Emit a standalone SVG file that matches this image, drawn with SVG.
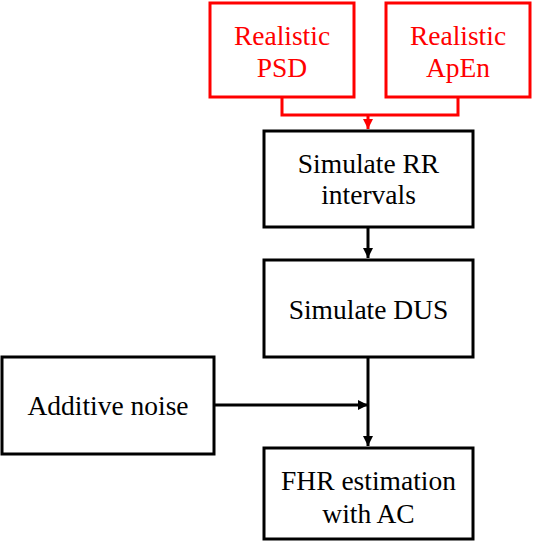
<svg xmlns="http://www.w3.org/2000/svg" width="533" height="542" viewBox="0 0 533 542">
<style>
.box{fill:#fff;stroke:#000;stroke-width:3}
.rbox{fill:#fff;stroke:#f00;stroke-width:3}
.t{font-family:"Liberation Serif","Times New Roman",serif;font-size:27.5px;text-anchor:middle;fill:#000}
.rt{font-family:"Liberation Serif","Times New Roman",serif;font-size:27.5px;text-anchor:middle;fill:#f00}
.line{fill:none;stroke:#000;stroke-width:3}
.rline{fill:none;stroke:#f00;stroke-width:3}
</style>
<defs>
<marker id="ah" viewBox="0 0 10 10" refX="10" refY="5" markerWidth="10" markerHeight="10" markerUnits="userSpaceOnUse" orient="auto">
<path d="M0,0 L10,5 L0,10 z" fill="#000"/>
</marker>
<marker id="rah" viewBox="0 0 10 10" refX="10" refY="5" markerWidth="10" markerHeight="10" markerUnits="userSpaceOnUse" orient="auto">
<path d="M0,0 L10,5 L0,10 z" fill="#f00"/>
</marker>
</defs>
<rect width="533" height="542" fill="#fff"/>
<g id="connectors">
<path class="rline" d="M282,97 V115 H458 V97"/>
<path class="rline" d="M368,115 V129" marker-end="url(#rah)"/>
<path class="line" d="M368,227 V258" marker-end="url(#ah)"/>
<path class="line" d="M368,357 V446" marker-end="url(#ah)"/>
<path class="line" d="M214,405 H368" marker-end="url(#ah)"/>
</g>
<g id="psd">
<rect class="rbox" x="210" y="3" width="144" height="94"/>
<text class="rt" x="282" y="45">Realistic</text>
<text class="rt" x="282" y="77">PSD</text>
</g>
<g id="apen">
<rect class="rbox" x="386" y="3" width="144" height="94"/>
<text class="rt" x="458" y="45">Realistic</text>
<text class="rt" x="458" y="77">ApEn</text>
</g>
<g id="rr">
<rect class="box" x="264" y="131" width="209" height="96"/>
<text class="t" x="368.5" y="173">Simulate RR</text>
<text class="t" x="368.5" y="204">intervals</text>
</g>
<g id="dus">
<rect class="box" x="264" y="260" width="209" height="97"/>
<text class="t" x="368.5" y="319">Simulate DUS</text>
</g>
<g id="noise">
<rect class="box" x="2" y="357" width="212" height="97"/>
<text class="t" x="108" y="415">Additive noise</text>
</g>
<g id="fhr">
<rect class="box" x="264" y="448" width="209" height="91"/>
<text class="t" x="368.5" y="490">FHR estimation</text>
<text class="t" x="368.5" y="523">with AC</text>
</g>
</svg>
